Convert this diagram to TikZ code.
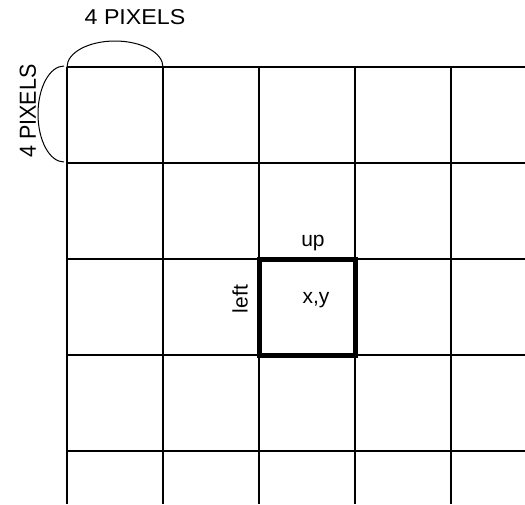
\documentclass[tikz,border=0pt]{standalone}
\usepackage{fontspec}
\setmainfont{Liberation Sans}
\begin{document}
\begin{tikzpicture}[x=1pt,y=-1pt,
  gridline/.style={line width=2.3pt},
  thickbox/.style={line width=5pt},
  brace/.style={line width=1pt},
  lbl/.style={inner sep=0pt,font=\fontsize{21}{25}\selectfont},
  biglbl/.style={inner sep=0pt,font=\fontsize{21.5}{25}\selectfont}]
\useasboundingbox (0,0) rectangle (525,504);
% grid
\foreach \v in {67,163,259,355,451}{
  \draw[gridline] (\v,67) -- (\v,504);
  \draw[gridline] (67,\v) -- (525,\v);
}
% highlighted cell
\draw[thickbox] (259,259) rectangle (355,355);
% arcs
\draw[brace] (67,67) arc[start angle=180,end angle=0,x radius=48,y radius=-26];
\draw[brace] (64,66) arc[start angle=90,end angle=270,x radius=26,y radius=-48];
% labels
\node[biglbl,xscale=1.08] (top) at (135,17) {4 PIXELS};
\node[biglbl,xscale=1.08,rotate=90] (side) at (28,111) {4 PIXELS};
\node[lbl] (up) at (313,243) {up};
\node[lbl] (xy) at (316,300) {x,y};
\node[lbl,rotate=90] (left) at (240,299) {left};
\end{tikzpicture}
\end{document}
